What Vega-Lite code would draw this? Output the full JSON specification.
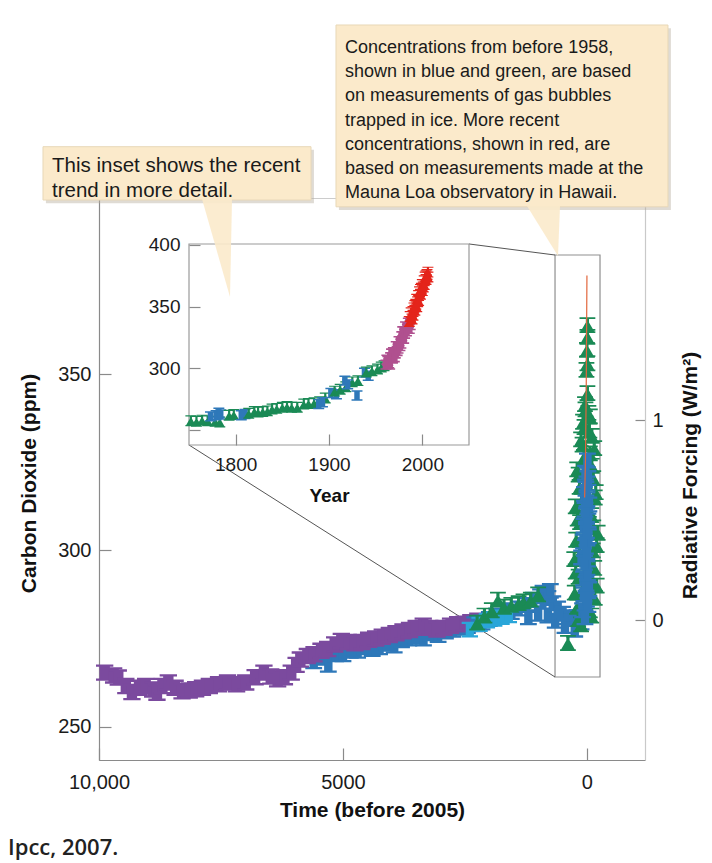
{
  "$schema": "https://vega.github.io/schema/vega-lite/v6.json",
  "width": 546,
  "height": 562,
  "autosize": "none",
  "padding": {"left": 99, "top": 198, "right": 67, "bottom": 103},
  "background": "#ffffff",
  "config": {
    "view": {"stroke": "#cccccc", "strokeWidth": 1},
    "font": "Liberation Sans",
    "axis": {"grid": false, "labelFlush": false, "labelFont": "Liberation Sans", "titleFont": "Liberation Sans", "labelColor": "#1b1b1b", "titleColor": "#111111", "titleFontWeight": "bold", "domainColor": "#8a8a8a", "tickColor": "#8a8a8a", "domainWidth": 1.2, "tickWidth": 1.2}
  },
  "datasets": {
    "mainpts": [
      {"bp": 5600, "ppm": 268.5, "s": "B"}, {"bp": 5450, "ppm": 269.5, "s": "B"}, {"bp": 5300, "ppm": 267.5, "s": "B"}, {"bp": 5150, "ppm": 270.5, "s": "B"},
      {"bp": 5000, "ppm": 270.5, "s": "B"}, {"bp": 4850, "ppm": 271.5, "s": "B"}, {"bp": 4700, "ppm": 271.5, "s": "B"}, {"bp": 4550, "ppm": 272.5, "s": "B"},
      {"bp": 4400, "ppm": 272, "s": "B"}, {"bp": 4250, "ppm": 272.5, "s": "B"}, {"bp": 4100, "ppm": 273.5, "s": "B"}, {"bp": 3950, "ppm": 273, "s": "B"},
      {"bp": 3800, "ppm": 274.5, "s": "B"}, {"bp": 3650, "ppm": 275, "s": "B"}, {"bp": 3500, "ppm": 275.5, "s": "B"}, {"bp": 3350, "ppm": 275, "s": "B"},
      {"bp": 3200, "ppm": 276.5, "s": "B"}, {"bp": 3050, "ppm": 276, "s": "B"}, {"bp": 2900, "ppm": 277, "s": "B"}, {"bp": 2750, "ppm": 277.5, "s": "B"},
      {"bp": 2600, "ppm": 278, "s": "B"}, {"bp": 2450, "ppm": 278.5, "s": "B"},
      {"bp": 9884, "ppm": 265.3, "s": "P"}, {"bp": 9700, "ppm": 264.5, "s": "P"}, {"bp": 9605, "ppm": 263.9, "s": "P"}, {"bp": 9450, "ppm": 261.5, "s": "P"},
      {"bp": 9325, "ppm": 259.8, "s": "P"}, {"bp": 9180, "ppm": 261, "s": "P"}, {"bp": 9044, "ppm": 261.5, "s": "P"}, {"bp": 8900, "ppm": 260.5, "s": "P"},
      {"bp": 8812, "ppm": 259.6, "s": "P"}, {"bp": 8700, "ppm": 261.5, "s": "P"}, {"bp": 8579, "ppm": 262.5, "s": "P"}, {"bp": 8440, "ppm": 261, "s": "P"},
      {"bp": 8298, "ppm": 260, "s": "P"}, {"bp": 8150, "ppm": 260.2, "s": "P"}, {"bp": 8019, "ppm": 260.6, "s": "P"}, {"bp": 7880, "ppm": 261, "s": "P"},
      {"bp": 7739, "ppm": 261.5, "s": "P"}, {"bp": 7550, "ppm": 262, "s": "P"}, {"bp": 7366, "ppm": 262.5, "s": "P"}, {"bp": 7180, "ppm": 262, "s": "P"},
      {"bp": 6993, "ppm": 262.5, "s": "P"}, {"bp": 6800, "ppm": 264, "s": "P"}, {"bp": 6620, "ppm": 265.3, "s": "P"}, {"bp": 6480, "ppm": 264.2, "s": "P"},
      {"bp": 6339, "ppm": 263.4, "s": "P"}, {"bp": 6200, "ppm": 264, "s": "P"}, {"bp": 6060, "ppm": 265.3, "s": "P"}, {"bp": 5960, "ppm": 267.5, "s": "P"},
      {"bp": 5874, "ppm": 269, "s": "P"}, {"bp": 5730, "ppm": 270, "s": "P"}, {"bp": 5593, "ppm": 270.5, "s": "P"}, {"bp": 5450, "ppm": 271.5, "s": "P"},
      {"bp": 5314, "ppm": 272, "s": "P"}, {"bp": 5170, "ppm": 273.3, "s": "P"}, {"bp": 5034, "ppm": 274.3, "s": "P"}, {"bp": 4890, "ppm": 274, "s": "P"},
      {"bp": 4755, "ppm": 273.6, "s": "P"}, {"bp": 4610, "ppm": 274, "s": "P"}, {"bp": 4474, "ppm": 274.6, "s": "P"}, {"bp": 4330, "ppm": 275, "s": "P"},
      {"bp": 4195, "ppm": 275.5, "s": "P"}, {"bp": 4050, "ppm": 276, "s": "P"}, {"bp": 3914, "ppm": 276.5, "s": "P"}, {"bp": 3770, "ppm": 277, "s": "P"},
      {"bp": 3636, "ppm": 277.4, "s": "P"}, {"bp": 3500, "ppm": 278, "s": "P"}, {"bp": 3355, "ppm": 278.6, "s": "P"}, {"bp": 3220, "ppm": 278, "s": "P"},
      {"bp": 3074, "ppm": 277.5, "s": "P"}, {"bp": 2930, "ppm": 278, "s": "P"}, {"bp": 2795, "ppm": 278.6, "s": "P"}, {"bp": 2650, "ppm": 279, "s": "P"},
      {"bp": 2515, "ppm": 279.2, "s": "P"}, {"bp": 2380, "ppm": 279.6, "s": "P"}, {"bp": 2236, "ppm": 280, "s": "P"},
      {"bp": 2300, "ppm": 279, "s": "B"}, {"bp": 2150, "ppm": 279.5, "s": "B"},
      {"bp": 2000, "ppm": 280.5, "s": "B"}, {"bp": 1850, "ppm": 281.5, "s": "B"}, {"bp": 1700, "ppm": 283, "s": "B"}, {"bp": 1550, "ppm": 282.5, "s": "B"},
      {"bp": 1400, "ppm": 283.5, "s": "B"}, {"bp": 1250, "ppm": 284.5, "s": "B"}, {"bp": 1200, "ppm": 281, "s": "B"}, {"bp": 1100, "ppm": 286, "s": "B"},
      {"bp": 1000, "ppm": 282, "s": "B"}, {"bp": 950, "ppm": 287, "s": "B"}, {"bp": 900, "ppm": 288, "s": "B"}, {"bp": 800, "ppm": 286.5, "s": "B"},
      {"bp": 800, "ppm": 281.5, "s": "B"}, {"bp": 750, "ppm": 288.5, "s": "B"}, {"bp": 700, "ppm": 285, "s": "B"}, {"bp": 650, "ppm": 280, "s": "B"},
      {"bp": 600, "ppm": 283.5, "s": "B"}, {"bp": 500, "ppm": 282, "s": "B"}, {"bp": 400, "ppm": 281, "s": "B"}, {"bp": 300, "ppm": 280.5, "s": "B"},
      {"bp": 200, "ppm": 281, "s": "B"}, {"bp": 120, "ppm": 279.5, "s": "B"}, {"bp": 450, "ppm": 278.5, "s": "B"}, {"bp": 250, "ppm": 277.5, "s": "B"},
      {"bp": 2400, "ppm": 277.5, "s": "C"}, {"bp": 2200, "ppm": 279, "s": "C"}, {"bp": 2050, "ppm": 280, "s": "C"}, {"bp": 1900, "ppm": 280.5, "s": "C"},
      {"bp": 1750, "ppm": 281, "s": "C"}, {"bp": 1600, "ppm": 281.5, "s": "C"},
      {"bp": 2250, "ppm": 279.5, "s": "G"}, {"bp": 2100, "ppm": 281.5, "s": "G"}, {"bp": 1950, "ppm": 283, "s": "G"}, {"bp": 1824, "ppm": 286, "s": "G"},
      {"bp": 1700, "ppm": 284, "s": "G"}, {"bp": 1550, "ppm": 284.5, "s": "G"}, {"bp": 1400, "ppm": 285, "s": "G"}, {"bp": 1300, "ppm": 285.5, "s": "G"},
      {"bp": 1150, "ppm": 286, "s": "G"}, {"bp": 1000, "ppm": 287.5, "s": "G"},
      {"bp": 389, "ppm": 273.7, "s": "G"}, {"bp": 120, "ppm": 279, "s": "G"}, {"bp": -90, "ppm": 281.5, "s": "G"}, {"bp": 200, "ppm": 284, "s": "G"},
      {"bp": -160, "ppm": 286.5, "s": "G"}, {"bp": 90, "ppm": 289, "s": "G"}, {"bp": -110, "ppm": 291.5, "s": "G"}, {"bp": 230, "ppm": 294, "s": "G"},
      {"bp": -60, "ppm": 296.5, "s": "G"}, {"bp": 150, "ppm": 299, "s": "G"}, {"bp": -200, "ppm": 301.5, "s": "G"}, {"bp": 40, "ppm": 304, "s": "G"},
      {"bp": -130, "ppm": 306.5, "s": "G"}, {"bp": 190, "ppm": 309, "s": "G"}, {"bp": -40, "ppm": 311.5, "s": "G"}, {"bp": 110, "ppm": 314, "s": "G"},
      {"bp": -180, "ppm": 316.5, "s": "G"}, {"bp": 10, "ppm": 319, "s": "G"}, {"bp": 170, "ppm": 321.5, "s": "G"}, {"bp": -100, "ppm": 324, "s": "G"},
      {"bp": 60, "ppm": 326.5, "s": "G"}, {"bp": -150, "ppm": 329, "s": "G"}, {"bp": 120, "ppm": 331.5, "s": "G"}, {"bp": -50, "ppm": 334, "s": "G"},
      {"bp": 80, "ppm": 336.5, "s": "G"}, {"bp": -30, "ppm": 339, "s": "G"}, {"bp": 40, "ppm": 341.5, "s": "G"}, {"bp": -10, "ppm": 344.6, "s": "G"},
      {"bp": 180, "ppm": 280.5, "s": "G"}, {"bp": -60, "ppm": 283, "s": "G"}, {"bp": 250, "ppm": 288, "s": "G"}, {"bp": -200, "ppm": 290, "s": "G"},
      {"bp": 170, "ppm": 292.5, "s": "G"}, {"bp": -150, "ppm": 295, "s": "G"}, {"bp": 260, "ppm": 297.5, "s": "G"}, {"bp": -120, "ppm": 300, "s": "G"},
      {"bp": 220, "ppm": 303, "s": "G"}, {"bp": -220, "ppm": 305, "s": "G"}, {"bp": 140, "ppm": 308, "s": "G"}, {"bp": -90, "ppm": 310, "s": "G"},
      {"bp": 230, "ppm": 312.5, "s": "G"}, {"bp": -160, "ppm": 315, "s": "G"}, {"bp": 150, "ppm": 318, "s": "G"}, {"bp": -130, "ppm": 320.5, "s": "G"},
      {"bp": 200, "ppm": 323, "s": "G"}, {"bp": -60, "ppm": 327.5, "s": "G"}, {"bp": 90, "ppm": 330, "s": "G"}, {"bp": -100, "ppm": 332.5, "s": "G"},
      {"bp": 50, "ppm": 335, "s": "G"}, {"bp": -60, "ppm": 338, "s": "G"}, {"bp": 30, "ppm": 340, "s": "G"},
      {"bp": 10, "ppm": 351.2, "s": "G"}, {"bp": -10, "ppm": 353.1, "s": "G"}, {"bp": 0, "ppm": 356.9, "s": "G"}, {"bp": -10, "ppm": 360.6, "s": "G"},
      {"bp": -10, "ppm": 363.9, "s": "G"},
      {"bp": 90, "ppm": 283, "s": "B"}, {"bp": 10, "ppm": 286, "s": "B"}, {"bp": -40, "ppm": 289, "s": "B"}, {"bp": 70, "ppm": 292, "s": "B"},
      {"bp": 0, "ppm": 295, "s": "B"}, {"bp": 110, "ppm": 298, "s": "B"}, {"bp": 30, "ppm": 301, "s": "B"}, {"bp": -30, "ppm": 304, "s": "B"},
      {"bp": 60, "ppm": 307, "s": "B"}, {"bp": 10, "ppm": 310, "s": "B"}, {"bp": -40, "ppm": 313, "s": "B"}, {"bp": 50, "ppm": 316, "s": "B"},
      {"bp": 0, "ppm": 319, "s": "B"}, {"bp": 30, "ppm": 322, "s": "B"}, {"bp": -10, "ppm": 325.5, "s": "B"},
      {"bp": 40, "ppm": 281, "s": "B"}, {"bp": -20, "ppm": 284.5, "s": "B"}, {"bp": 60, "ppm": 287.5, "s": "B"}, {"bp": 20, "ppm": 290.5, "s": "B"},
      {"bp": -10, "ppm": 293.5, "s": "B"}, {"bp": 50, "ppm": 296.5, "s": "B"}, {"bp": 0, "ppm": 299.5, "s": "B"}, {"bp": 70, "ppm": 302.5, "s": "B"},
      {"bp": 10, "ppm": 305.5, "s": "B"}, {"bp": -20, "ppm": 308.5, "s": "B"}, {"bp": 40, "ppm": 311.5, "s": "B"}, {"bp": 0, "ppm": 314.5, "s": "B"},
      {"bp": 20, "ppm": 317.5, "s": "B"}, {"bp": -20, "ppm": 320.5, "s": "B"}
    ],
    "insetpts": [
      {"yr": 1752, "ppm": 257.5, "s": "G"}, {"yr": 1758, "ppm": 257, "s": "G"}, {"yr": 1764, "ppm": 258, "s": "G"}, {"yr": 1770, "ppm": 257.5, "s": "G"},
      {"yr": 1778, "ppm": 257, "s": "G"}, {"yr": 1783, "ppm": 256.5, "s": "G"},
      {"yr": 1773, "ppm": 261, "s": "B"}, {"yr": 1779, "ppm": 262, "s": "B"}, {"yr": 1782, "ppm": 264, "s": "B"}, {"yr": 1784, "ppm": 262.5, "s": "B"},
      {"yr": 1793, "ppm": 262, "s": "G"}, {"yr": 1798, "ppm": 262.5, "s": "G"},
      {"yr": 1806, "ppm": 262, "s": "B"}, {"yr": 1810, "ppm": 263, "s": "B"},
      {"yr": 1814, "ppm": 263.5, "s": "G"}, {"yr": 1820, "ppm": 265, "s": "G"}, {"yr": 1824, "ppm": 264.5, "s": "G"}, {"yr": 1829, "ppm": 265, "s": "G"},
      {"yr": 1834, "ppm": 265.5, "s": "G"}, {"yr": 1839, "ppm": 267, "s": "G"}, {"yr": 1844, "ppm": 267.5, "s": "G"}, {"yr": 1850, "ppm": 268.5, "s": "G"},
      {"yr": 1855, "ppm": 269, "s": "G"}, {"yr": 1860, "ppm": 268.5, "s": "G"}, {"yr": 1866, "ppm": 268.5, "s": "G"}, {"yr": 1873, "ppm": 271, "s": "G"},
      {"yr": 1878, "ppm": 271.5, "s": "G"}, {"yr": 1884, "ppm": 272, "s": "G"}, {"yr": 1890, "ppm": 273, "s": "G"}, {"yr": 1896, "ppm": 276, "s": "G"},
      {"yr": 1889, "ppm": 271, "s": "B"}, {"yr": 1893, "ppm": 272.5, "s": "B"}, {"yr": 1902, "ppm": 280, "s": "B"}, {"yr": 1908, "ppm": 279, "s": "B"},
      {"yr": 1906, "ppm": 281.5, "s": "G"}, {"yr": 1912, "ppm": 283, "s": "G"}, {"yr": 1918, "ppm": 285, "s": "G"}, {"yr": 1925, "ppm": 289, "s": "G"},
      {"yr": 1917, "ppm": 290, "s": "B"}, {"yr": 1920, "ppm": 287, "s": "B"}, {"yr": 1930, "ppm": 278, "s": "B"}, {"yr": 1938, "ppm": 296.5, "s": "B"}, {"yr": 1942, "ppm": 294, "s": "B"},
      {"yr": 1931, "ppm": 290, "s": "G"}, {"yr": 1940, "ppm": 297, "s": "G"}, {"yr": 1946, "ppm": 298, "s": "G"}, {"yr": 1952, "ppm": 299.5, "s": "G"},
      {"yr": 1956, "ppm": 301, "s": "G"}, {"yr": 1959, "ppm": 302, "s": "G"},
      {"yr": 1961, "ppm": 303, "s": "M"}, {"yr": 1963, "ppm": 306, "s": "M"}, {"yr": 1964, "ppm": 304, "s": "M"}, {"yr": 1966, "ppm": 309, "s": "M"},
      {"yr": 1968, "ppm": 308, "s": "M"}, {"yr": 1969, "ppm": 313, "s": "M"}, {"yr": 1971, "ppm": 312, "s": "M"}, {"yr": 1972, "ppm": 318, "s": "M"},
      {"yr": 1974, "ppm": 316, "s": "M"}, {"yr": 1975, "ppm": 322, "s": "M"}, {"yr": 1977, "ppm": 320, "s": "M"}, {"yr": 1978, "ppm": 326, "s": "M"},
      {"yr": 1979, "ppm": 330, "s": "M"}, {"yr": 1981, "ppm": 328, "s": "M"}, {"yr": 1982, "ppm": 334, "s": "M"}, {"yr": 1984, "ppm": 332, "s": "M"},
      {"yr": 1985, "ppm": 337, "s": "M"}, {"yr": 1987, "ppm": 335, "s": "M"},
      {"yr": 1962, "ppm": 307, "s": "M"}, {"yr": 1965, "ppm": 303, "s": "M"}, {"yr": 1967, "ppm": 312, "s": "M"}, {"yr": 1970, "ppm": 309, "s": "M"},
      {"yr": 1973, "ppm": 314, "s": "M"}, {"yr": 1976, "ppm": 318, "s": "M"}, {"yr": 1980, "ppm": 324, "s": "M"}, {"yr": 1983, "ppm": 330, "s": "M"},
      {"yr": 1986, "ppm": 332, "s": "M"},
      {"yr": 1986, "ppm": 338, "s": "R"}, {"yr": 1987, "ppm": 342, "s": "R"}, {"yr": 1989, "ppm": 340, "s": "R"}, {"yr": 1990, "ppm": 346, "s": "R"},
      {"yr": 1991, "ppm": 349, "s": "R"}, {"yr": 1992, "ppm": 347, "s": "R"}, {"yr": 1993, "ppm": 352, "s": "R"}, {"yr": 1994, "ppm": 356, "s": "R"},
      {"yr": 1995, "ppm": 354, "s": "R"}, {"yr": 1996, "ppm": 359, "s": "R"}, {"yr": 1997, "ppm": 362, "s": "R"}, {"yr": 1998, "ppm": 360, "s": "R"},
      {"yr": 1999, "ppm": 365, "s": "R"}, {"yr": 2000, "ppm": 368, "s": "R"}, {"yr": 2001, "ppm": 366, "s": "R"}, {"yr": 2002, "ppm": 371, "s": "R"},
      {"yr": 2003, "ppm": 374, "s": "R"}, {"yr": 2004, "ppm": 372, "s": "R"}, {"yr": 2005, "ppm": 376, "s": "R"}, {"yr": 2006, "ppm": 378, "s": "R"},
      {"yr": 1988, "ppm": 345, "s": "R"}, {"yr": 1990, "ppm": 343, "s": "R"}, {"yr": 1992, "ppm": 351, "s": "R"}, {"yr": 1994, "ppm": 350, "s": "R"},
      {"yr": 1996, "ppm": 355, "s": "R"}, {"yr": 1998, "ppm": 364, "s": "R"}, {"yr": 2000, "ppm": 363, "s": "R"}, {"yr": 2002, "ppm": 368, "s": "R"},
      {"yr": 2004, "ppm": 375, "s": "R"}, {"yr": 2006, "ppm": 374, "s": "R"}
    ]
  },
  "resolve": {"scale": {"x": "independent", "y": "independent", "color": "independent", "shape": "independent", "size": "independent"}, "axis": {"x": "independent", "y": "independent"}},
  "layer": [
    {
      "encoding": {
        "x": {"field": "bp", "type": "quantitative", "scale": {"domain": [-1190, 10000], "reverse": true, "nice": false, "zero": false},
          "axis": {"orient": "bottom", "values": [10000, 5000, 0], "labelExpr": "datum.value == 10000 ? '10,000' : datum.value + ''", "labelFontSize": 20, "tickSize": -12, "labelPadding": 24, "title": "Time (before 2005)", "titleFontSize": 21, "titleX": 273, "titleY": 50, "titleBaseline": "middle", "titleAlign": "center"}},
        "y": {"field": "ppm", "type": "quantitative", "scale": {"domain": [240.5, 400], "nice": false, "zero": false},
          "axis": {"orient": "left", "values": [250, 300, 350], "labelFontSize": 20, "tickSize": -12, "labelPadding": 20, "title": "Carbon Dioxide (ppm)", "titleFontSize": 21, "titleX": -70, "titleY": 285, "titleAngle": 270, "titleBaseline": "middle", "titleAlign": "center"}}
      },
      "layer": [
        {"data": {"values": [{"bp": 654, "bp2": -268, "ppm": 264.06, "ppm2": 383.82}]}, "mark": {"type": "rect", "fill": "transparent", "stroke": "#8f8f8f", "strokeWidth": 1.2}, "encoding": {"x2": {"field": "bp2"}, "y2": {"field": "ppm2"}}},
        {"data": {"values": [{"bp": 2417, "ppm": 386.95, "bp2": 654, "ppm2": 383.82}, {"bp": 8155.5, "ppm": 329.9, "bp2": 654, "ppm2": 264.06}]}, "mark": {"type": "rule", "stroke": "#555555", "strokeWidth": 1}, "encoding": {"x2": {"field": "bp2"}, "y2": {"field": "ppm2"}}},
        {"data": {"name": "mainpts"}, "mark": {"type": "point", "filled": true, "opacity": 1},
          "encoding": {
            "color": {"field": "s", "type": "nominal", "scale": {"domain": ["P", "B", "C", "G"], "range": ["#7b4a9e", "#2e78b9", "#2aa6d9", "#1a8a55"]}, "legend": null},
            "shape": {"field": "s", "type": "nominal", "scale": {"domain": ["P", "B", "C", "G"], "range": ["M-1,-0.95H1V-0.68H0.6V0.68H1V0.95H-1V0.68H-0.6V-0.68H-1Z", "M-1,-0.95H1V-0.68H0.5V0.68H1V0.95H-1V0.68H-0.5V-0.68H-1Z", "M-1,-0.95H1V-0.68H0.5V0.68H1V0.95H-1V0.68H-0.5V-0.68H-1Z", "M-1,-1H1V-0.78H0.2V-0.35L0.85,0.78H1V1H-1V0.78H-0.85L-0.2,-0.35V-0.78H-1Z"]}, "legend": null},
            "size": {"field": "s", "type": "ordinal", "scale": {"domain": ["P", "B", "C", "G"], "range": [300, 250, 230, 270]}, "legend": null}
          }},
        {"data": {"values": [{"bp": 47, "ppm": 315}, {"bp": 30, "ppm": 326}, {"bp": 15, "ppm": 345}, {"bp": 0, "ppm": 378}]}, "mark": {"type": "line", "color": "#e2663c", "strokeWidth": 1.2}}
      ]
    },
    {
      "data": {"values": [{"rf": 0}, {"rf": 1}]},
      "mark": {"type": "point", "opacity": 0},
      "encoding": {
        "y": {"field": "rf", "type": "quantitative", "scale": {"domain": [-0.7, 2.11], "nice": false, "zero": false},
          "axis": {"orient": "right", "values": [0, 1], "labelFontSize": 20, "tickSize": -10, "labelPadding": 17, "domainColor": "#c9c9c9", "title": "Radiative Forcing (W/m²)", "titleFontSize": 21, "titleX": 45, "titleY": 277, "titleAngle": 270, "titleBaseline": "middle", "titleAlign": "center"}}
      }
    },
    {
      "encoding": {
        "x": {"field": "yr", "type": "quantitative", "scale": {"domain": [1653.57, 2238.57], "nice": false, "zero": false},
          "axis": {"orient": "bottom", "offset": -315, "values": [1800, 1900, 2000], "format": "d", "domain": false, "labelFontSize": 19, "tickSize": -11, "labelPadding": 21, "title": "Year", "titleFontSize": 19, "titleX": 230, "titleY": 50, "titleBaseline": "middle", "titleAlign": "center", "zindex": 2}},
        "y": {"field": "ppm", "type": "quantitative", "scale": {"domain": [-17.6, 438.1], "nice": false, "zero": false},
          "axis": {"orient": "left", "offset": -90, "values": [250, 300, 350, 400], "domain": false, "labelFontSize": 19, "tickSize": -11, "labelPadding": 20, "labelExpr": "datum.value == 250 ? '' : datum.label", "title": null, "zindex": 2}}
      },
      "layer": [
        {"data": {"values": [{"yr": 1750, "yr2": 2050, "ppm": 237.8, "ppm2": 400.8}]}, "mark": {"type": "rect", "fill": "#ffffff", "stroke": "#9a9a9a", "strokeWidth": 1.2}, "encoding": {"x2": {"field": "yr2"}, "y2": {"field": "ppm2"}}},
        {"data": {"name": "insetpts"}, "mark": {"type": "point", "filled": true, "opacity": 1},
          "encoding": {
            "color": {"field": "s", "type": "nominal", "scale": {"domain": ["G", "B", "M", "R"], "range": ["#1a8a55", "#2e78b9", "#b0508f", "#e4241b"]}, "legend": null},
            "shape": {"field": "s", "type": "nominal", "scale": {"domain": ["G", "B", "M", "R"], "range": ["M-1,-1H1V-0.78H0.2V-0.35L0.85,0.78H1V1H-1V0.78H-0.85L-0.2,-0.35V-0.78H-1Z", "M-1,-0.95H1V-0.68H0.5V0.68H1V0.95H-1V0.68H-0.5V-0.68H-1Z", "M-1,-0.95H1V-0.65H0.6V0.65H1V0.95H-1V0.65H-0.6V-0.65H-1Z", "M-1,-1H1V-0.78H0.2V-0.35L0.85,0.78H1V1H-1V0.78H-0.85L-0.2,-0.35V-0.78H-1Z"]}, "legend": null},
            "size": {"field": "s", "type": "ordinal", "scale": {"domain": ["G", "B", "M", "R"], "range": [120, 120, 150, 140]}, "legend": null}
          }}
      ]
    },
    {
      "encoding": {
        "x": {"field": "bp", "type": "quantitative", "scale": {"domain": [-1190, 10000], "reverse": true, "nice": false, "zero": false}, "axis": null},
        "y": {"field": "ppm", "type": "quantitative", "scale": {"domain": [240.5, 400], "nice": false, "zero": false}, "axis": null}
      },
      "layer": [
        {"data": {"values": [{"bp": 11088, "bp2": 5595, "ppm": 413.7, "ppm2": 398.5}, {"bp": 5083, "bp2": -1721, "ppm": 448.2, "ppm2": 396.6}]}, "mark": {"type": "rect", "fill": "#b8b0a0", "opacity": 0.45}, "encoding": {"x2": {"field": "bp2"}, "y2": {"field": "ppm2"}}},
        {"data": {"values": [{"bp": 11148, "bp2": 5655, "ppm": 414.56, "ppm2": 399.43}, {"bp": 5143, "bp2": -1661, "ppm": 449.1, "ppm2": 397.5}]}, "mark": {"type": "rect", "fill": "#fbeacb", "stroke": "#e8d8b8", "strokeWidth": 1}, "encoding": {"x2": {"field": "bp2"}, "y2": {"field": "ppm2"}}},
        {"data": {"values": [
          {"id": "a", "bp": 7889, "ppm": 399.7, "ppm2": 399.7}, {"id": "a", "bp": 7315, "ppm": 399.7, "ppm2": 371.9}, {"id": "a", "bp": 7274, "ppm": 399.7, "ppm2": 399.7},
          {"id": "b", "bp": 1228, "ppm": 397.7, "ppm2": 397.7}, {"id": "b", "bp": 593, "ppm": 397.7, "ppm2": 383.54}, {"id": "b", "bp": 552, "ppm": 397.7, "ppm2": 397.7}
        ]}, "mark": {"type": "area", "color": "#fbeacb", "opacity": 0.9, "orient": "vertical"}, "encoding": {"y2": {"field": "ppm2"}, "detail": {"field": "id"}}},
        {"data": {"values": [
          {"bp": 10963, "ppm": 407.24, "t": "This inset shows the recent\ntrend in more detail."}
        ]}, "mark": {"type": "text", "align": "left", "baseline": "alphabetic", "fontSize": 20.5, "lineHeight": 25, "lineBreak": "\n", "color": "#1a1a1a", "font": "Liberation Sans"}, "encoding": {"text": {"field": "t"}}},
        {"data": {"values": [
          {"bp": 4958, "ppm": 441.15, "t": "Concentrations from before 1958,\nshown in blue and green, are based\non measurements of gas bubbles\ntrapped in ice. More recent\nconcentrations, shown in red, are\nbased on measurements made at the\nMauna Loa observatory in Hawaii."}
        ]}, "mark": {"type": "text", "align": "left", "baseline": "alphabetic", "fontSize": 18, "lineHeight": 24.2, "lineBreak": "\n", "color": "#1a1a1a", "font": "Liberation Sans"}, "encoding": {"text": {"field": "t"}}},
        {"data": {"values": [{"bp": 11865, "ppm": 213.5, "t": "Ipcc, 2007."}]}, "mark": {"type": "text", "align": "left", "baseline": "alphabetic", "font": "Open Sans", "fontWeight": 600, "fontSize": 22, "color": "#222222"}, "encoding": {"text": {"field": "t"}}}
      ]
    }
  ]
}
